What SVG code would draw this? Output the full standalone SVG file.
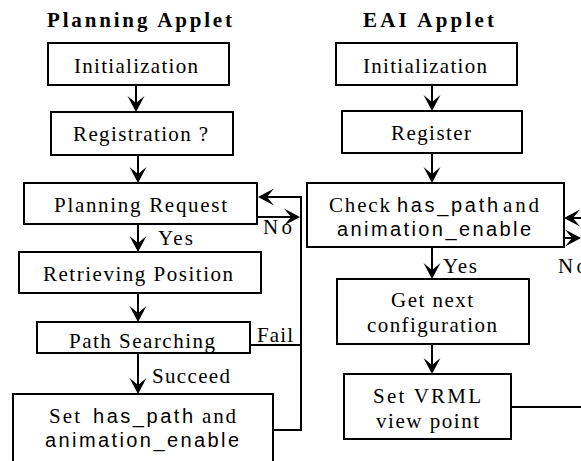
<svg xmlns="http://www.w3.org/2000/svg" width="581" height="461" viewBox="0 0 581 461">
<style>
.b{fill:#fff;stroke:#000;stroke-width:2}
.c{fill:none;stroke:#000;stroke-width:2}
text{fill:#000}
.s{font-family:"Liberation Serif","Times New Roman",serif;font-size:21px}
.a{font-family:"Liberation Sans",Arial,sans-serif;font-size:20px}
.t{font-family:"Liberation Serif","Times New Roman",serif;font-size:21px;font-weight:bold}
</style>
<defs>
<marker id="ar" viewBox="0 0 16 18" refX="7" refY="9" markerWidth="16" markerHeight="18" markerUnits="userSpaceOnUse" orient="auto">
<path d="M16,9 L0,0.5 L7,9 L0,17.5 Z" fill="#000"/>
</marker>
</defs>
<rect width="581" height="461" fill="#fff"/>
<g id="titles">
<text class="t" x="47" y="27" textLength="185" lengthAdjust="spacing">Planning Applet</text>
<text class="t" x="363" y="27" textLength="131" lengthAdjust="spacing">EAI Applet</text>
</g>
<g id="connectors">
<path class="c" d="M136,85 V103" marker-end="url(#ar)"/>
<path class="c" d="M138,155 V174" marker-end="url(#ar)"/>
<path class="c" d="M138,224 V243" marker-end="url(#ar)"/>
<path class="c" d="M138,293 V313" marker-end="url(#ar)"/>
<path class="c" d="M138,353 V385" marker-end="url(#ar)"/>
<path class="c" d="M273,430 H301 V197 H267" marker-end="url(#ar)"/>
<path class="c" d="M250,345 H301"/>
<path class="c" d="M257,217 H291" marker-end="url(#ar)"/>
<path class="c" d="M432,85 V102" marker-end="url(#ar)"/>
<path class="c" d="M432,153 V174" marker-end="url(#ar)"/>
<path class="c" d="M432,247 V270" marker-end="url(#ar)"/>
<path class="c" d="M432,344 V365" marker-end="url(#ar)"/>
<path class="c" d="M590,218 H573" marker-end="url(#ar)"/>
<path class="c" d="M564,238 H572" marker-end="url(#ar)"/>
<path class="c" d="M511,407 H581"/>
<text class="s" x="158" y="245" textLength="35" lengthAdjust="spacing">Yes</text>
<text class="s" x="263" y="234" textLength="29" lengthAdjust="spacing">No</text>
<text class="s" x="257" y="342" textLength="36" lengthAdjust="spacing">Fail</text>
<text class="s" x="152" y="383" textLength="78" lengthAdjust="spacing">Succeed</text>
<text class="s" x="443" y="273" textLength="34" lengthAdjust="spacing">Yes</text>
<text class="s" x="558" y="273" textLength="29" lengthAdjust="spacing">No</text>
</g>
<g id="p-init">
<rect class="b" x="48" y="43" width="181" height="42"/>
<text class="s" x="74" y="73" textLength="124" lengthAdjust="spacing">Initialization</text>
</g>
<g id="p-reg">
<rect class="b" x="51" y="112" width="182" height="43"/>
<text class="s" x="73" y="141" textLength="135" lengthAdjust="spacing">Registration ?</text>
</g>
<g id="p-request">
<rect class="b" x="24" y="183" width="233" height="41"/>
<text class="s" x="54" y="212" textLength="173" lengthAdjust="spacing">Planning Request</text>
</g>
<g id="p-retrieve">
<rect class="b" x="19" y="252" width="242" height="41"/>
<text class="s" x="43" y="281" textLength="190" lengthAdjust="spacing">Retrieving Position</text>
</g>
<g id="p-search">
<rect class="b" x="37" y="322" width="213" height="31"/>
<text class="s" x="69" y="348" textLength="146" lengthAdjust="spacing">Path Searching</text>
</g>
<g id="p-set">
<rect class="b" x="13" y="394" width="260" height="75"/>
<text class="s" x="49" y="423" textLength="31" lengthAdjust="spacing">Set</text>
<text class="a" x="93" y="423" textLength="100" lengthAdjust="spacing">has_path</text>
<text class="s" x="202" y="423" textLength="34" lengthAdjust="spacing">and</text>
<text class="a" x="45" y="447" textLength="194" lengthAdjust="spacing">animation_enable</text>
</g>
<g id="e-init">
<rect class="b" x="336" y="43" width="181" height="42"/>
<text class="s" x="363" y="73" textLength="124" lengthAdjust="spacing">Initialization</text>
</g>
<g id="e-reg">
<rect class="b" x="342" y="111" width="180" height="42"/>
<text class="s" x="391" y="140" textLength="80" lengthAdjust="spacing">Register</text>
</g>
<g id="e-check">
<rect class="b" x="307" y="183" width="257" height="64"/>
<text class="s" x="329" y="212" textLength="61" lengthAdjust="spacing">Check</text>
<text class="a" x="397" y="212" textLength="101" lengthAdjust="spacing">has_path</text>
<text class="s" x="503" y="212" textLength="36" lengthAdjust="spacing">and</text>
<text class="a" x="337" y="236" textLength="194" lengthAdjust="spacing">animation_enable</text>
</g>
<g id="e-next">
<rect class="b" x="337" y="279" width="192" height="65"/>
<text class="s" x="391" y="307" textLength="82" lengthAdjust="spacing">Get next</text>
<text class="s" x="367" y="332" textLength="130" lengthAdjust="spacing">configuration</text>
</g>
<g id="e-vrml">
<rect class="b" x="344" y="374" width="167" height="65"/>
<text class="s" x="373" y="403" textLength="108" lengthAdjust="spacing">Set VRML</text>
<text class="s" x="376" y="428" textLength="103" lengthAdjust="spacing">view point</text>
</g>
</svg>
